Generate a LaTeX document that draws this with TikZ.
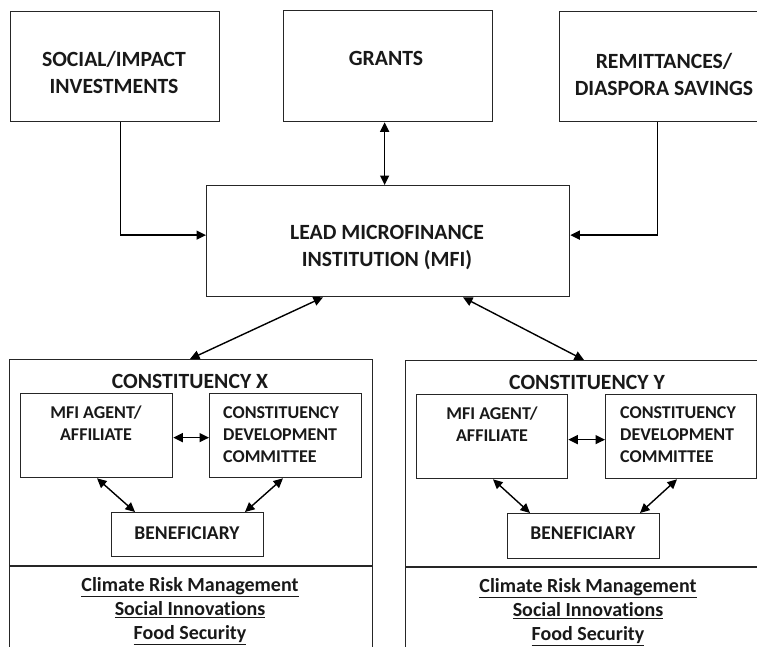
\documentclass[tikz,border=0pt]{standalone}
\usepackage{fontspec}
\setmainfont{Carlito}[Ligatures=NoCommon]
\usetikzlibrary{arrows.meta}
\begin{document}
\begin{tikzpicture}[x=1pt,y=-1pt,
  box/.style={draw=black!85, line width=1.3pt, inner sep=0pt, anchor=north west},
  big/.style={font=\bfseries\fontsize{21.7}{27}\selectfont, align=center, inner sep=0pt, text=black!90},
  small/.style={font=\bfseries\fontsize{18}{22}\selectfont, inner sep=0pt, text=black!90},
  bensty/.style={font=\bfseries\fontsize{19.5}{22}\selectfont, inner sep=0pt, text=black!90},
  bot/.style={font=\bfseries\fontsize{20}{24}\selectfont, align=center, inner sep=0pt, text=black!90},
  arr/.style={line width=1.4pt, -{Triangle[length=9.5pt,width=9pt]}},
  darr/.style={line width=1.4pt, {Triangle[length=9.5pt,width=9pt]}-{Triangle[length=9.5pt,width=9pt]}}]
\useasboundingbox (0,0) rectangle (757,646);
\clip (0,0) rectangle (757,646);
\fill[white] (0,0) rectangle (757,646);
% top boxes
\node[box, minimum width=209pt, minimum height=110pt] (soc) at (10,11) {};
\node[box, minimum width=209pt, minimum height=111pt] (gr) at (283,10) {};
\node[box, minimum width=211pt, minimum height=110pt] (rem) at (559,11) {};
\node[box, minimum width=363pt, minimum height=111pt] (mfi) at (206,185) {};
\node[big] (socT) at (114,72.5) {SOCIAL/IMPACT\\INVESTMENTS};
\node[big] (grT) at (386,58) {GRANTS};
\node[big] (remT) at (664,74) {REMITTANCES/\\DIASPORA SAVINGS};
\node[big] (mfiT) at (387,247.5) {LEAD MICROFINANCE\\INSTITUTION (MFI)};
% top connectors
\draw[arr] ([xshift=5.5pt]soc.south) |- ([yshift=6pt]mfi.west);
\draw[arr] ([xshift=-7.5pt]rem.south) |- ([yshift=6pt]mfi.east);
\draw[darr] ([xshift=-3.5pt]gr.south) -- ([xshift=-3.5pt]mfi.north);
% constituency boxes
\node[box, minimum width=363pt, minimum height=300pt] (cx) at (9,359) {};
\node[box, minimum width=365pt, minimum height=300pt] (cy) at (405,360) {};
\draw[darr] ([xshift=117pt]mfi.south west) -- ([xshift=181pt]cx.north west);
\draw[darr] ([xshift=257pt]mfi.south west) -- ([xshift=179pt]cy.north west);
% constituency X
\node[big] (cxT) at (190,381) {CONSTITUENCY X};
\node[box, minimum width=152pt, minimum height=84pt] (agx) at (20,393) {};
\node[box, minimum width=152pt, minimum height=84pt] (cdx) at (209,393) {};
\node[box, minimum width=152pt, minimum height=44pt] (bnx) at (111,512) {};
\node[small, align=center] (agxT) at (96,423) {MFI AGENT/\\AFFILIATE};
\node[small, align=left, anchor=west] (cdxT) at (223,434.5) {CONSTITUENCY\\DEVELOPMENT\\COMMITTEE};
\node[bensty] (bnxT) at (187,533) {BENEFICIARY};
\draw[darr] ([yshift=-2pt]agx.east) -- ([yshift=-2pt]cdx.west);
\draw[darr] ([xshift=77pt]agx.south west) -- ([xshift=24pt]bnx.north west);
\draw[darr] ([xshift=74pt]cdx.south west) -- ([xshift=134pt]bnx.north west);
\coordinate (dx1) at (9,566);
\coordinate (dx2) at (372,566);
\draw[line width=1.3pt, black!85] (dx1) -- (dx2);
\node[bot] (botx) at (190,611) {\underline{Climate Risk Management}\\\underline{Social Innovations}\\\underline{Food Security}};
% constituency Y
\node[big] (cyT) at (587,382) {CONSTITUENCY Y};
\node[box, minimum width=151pt, minimum height=84pt] (agy) at (416,394) {};
\node[box, minimum width=151pt, minimum height=84pt] (cdy) at (605,394) {};
\node[box, minimum width=152pt, minimum height=45pt] (bny) at (507,513) {};
\node[small, align=center] (agyT) at (492,424.5) {MFI AGENT/\\AFFILIATE};
\node[small, align=left, anchor=west] (cdyT) at (620,435) {CONSTITUENCY\\DEVELOPMENT\\COMMITTEE};
\node[bensty] (bnyT) at (583,533) {BENEFICIARY};
\draw[darr] ([yshift=-3pt]agy.east) -- ([yshift=-3pt]cdy.west);
\draw[darr] ([xshift=77pt]agy.south west) -- ([xshift=23pt]bny.north west);
\draw[darr] ([xshift=72pt]cdy.south west) -- ([xshift=133pt]bny.north west);
\coordinate (dy1) at (405,567);
\coordinate (dy2) at (770,567);
\draw[line width=1.3pt, black!85] (dy1) -- (dy2);
\node[bot] (boty) at (588,612) {\underline{Climate Risk Management}\\\underline{Social Innovations}\\\underline{Food Security}};
\end{tikzpicture}
\end{document}
